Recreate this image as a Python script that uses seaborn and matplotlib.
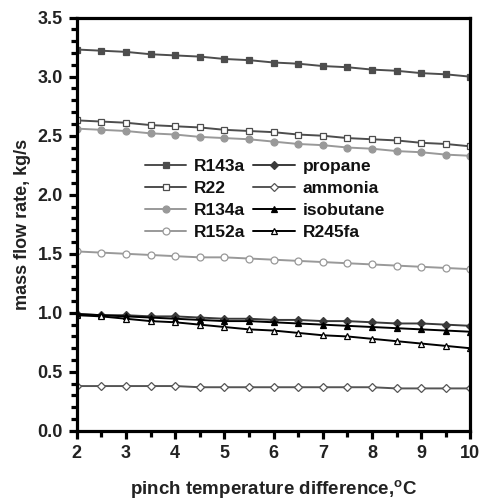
import numpy as np
import pandas as pd
import seaborn as sns
import matplotlib.pyplot as plt
from matplotlib.ticker import MultipleLocator

# pinch temperature difference (°C)
dt = [2.0, 2.5, 3.0, 3.5, 4.0, 4.5, 5.0, 5.5, 6.0, 6.5, 7.0, 7.5, 8.0, 8.5, 9.0, 9.5, 10.0]

# mass flow rate (kg/s)
r143a = [3.23, 3.22, 3.21, 3.19, 3.18, 3.17, 3.15, 3.14, 3.12, 3.11, 3.09, 3.08, 3.06, 3.05, 3.03, 3.02, 3.00]
r22 = [2.63, 2.62, 2.61, 2.59, 2.58, 2.57, 2.55, 2.54, 2.53, 2.51, 2.50, 2.48, 2.47, 2.46, 2.44, 2.43, 2.41]
r134a = [2.56, 2.55, 2.54, 2.52, 2.51, 2.49, 2.48, 2.47, 2.45, 2.43, 2.42, 2.40, 2.39, 2.37, 2.36, 2.34, 2.33]
r152a = [1.52, 1.51, 1.50, 1.49, 1.48, 1.47, 1.47, 1.46, 1.45, 1.44, 1.43, 1.42, 1.41, 1.40, 1.39, 1.38, 1.37]
propane = [0.99, 0.98, 0.98, 0.97, 0.97, 0.96, 0.95, 0.95, 0.94, 0.94, 0.93, 0.93, 0.92, 0.91, 0.91, 0.90, 0.89]
ammonia = [0.38, 0.38, 0.38, 0.38, 0.38, 0.37, 0.37, 0.37, 0.37, 0.37, 0.37, 0.37, 0.37, 0.36, 0.36, 0.36, 0.36]
isobutane = [0.99, 0.98, 0.97, 0.96, 0.95, 0.94, 0.93, 0.93, 0.92, 0.91, 0.90, 0.89, 0.88, 0.87, 0.86, 0.85, 0.84]
r245fa = [0.98, 0.97, 0.95, 0.93, 0.92, 0.90, 0.88, 0.86, 0.85, 0.83, 0.81, 0.80, 0.78, 0.76, 0.74, 0.72, 0.70]

names = ['R143a', 'R22', 'R134a', 'R152a', 'propane', 'ammonia', 'isobutane', 'R245fa']
series = [r143a, r22, r134a, r152a, propane, ammonia, isobutane, r245fa]

# estilo de cada curva: cor da linha, marcador, preenchimento
estilos = {
    'R143a': ('#4d4d4d', 's', '#4d4d4d'),
    'R22': ('#4d4d4d', 's', 'white'),
    'R134a': ('#999999', 'o', '#999999'),
    'R152a': ('#999999', 'o', 'white'),
    'propane': ('#3a3a3a', 'D', '#3a3a3a'),
    'ammonia': ('#555555', 'D', 'white'),
    'isobutane': ('#000000', '^', '#000000'),
    'R245fa': ('#000000', '^', 'white'),
}

sns.set_theme(style='ticks')
plt.rcParams['font.family'] = ['Liberation Sans', 'DejaVu Sans']
plt.rcParams['font.weight'] = 'bold'
plt.rcParams['mathtext.fontset'] = 'custom'
plt.rcParams['mathtext.rm'] = 'Liberation Sans:bold'
plt.rcParams['mathtext.bf'] = 'Liberation Sans:bold'

fig = plt.figure(figsize=(4.8, 5.04), dpi=100)
ax = fig.add_axes([0.16, 0.145, 0.82, 0.82])

for nome, valores in zip(names, series):
    cor, marcador, face = estilos[nome]
    df = pd.DataFrame({'dt': dt, 'm': valores})
    ms = 5 if marcador != 'D' else 4.5
    sns.lineplot(data=df, x='dt', y='m', ax=ax, color=cor, linewidth=1.4,
                 marker=marcador, markersize=ms, markerfacecolor=face,
                 markeredgecolor=cor, markeredgewidth=0.9, label=nome)

ax.set_xlim(2, 10)
ax.set_ylim(0, 3.5)
ax.xaxis.set_major_locator(MultipleLocator(1))
ax.xaxis.set_minor_locator(MultipleLocator(0.5))
ax.yaxis.set_major_locator(MultipleLocator(0.5))
ax.yaxis.set_minor_locator(MultipleLocator(0.1))
ax.yaxis.set_major_formatter(plt.FormatStrFormatter('%.1f'))

for lado in ['left', 'right', 'top', 'bottom']:
    ax.spines[lado].set_visible(True)
    ax.spines[lado].set_linewidth(2.3)
    ax.spines[lado].set_color('black')

ax.tick_params(which='major', direction='out', length=6, width=2.3, labelsize=13,
               colors='black', pad=4)
ax.tick_params(which='minor', direction='out', length=4, width=2.3, colors='black')
for lbl in ax.get_xticklabels() + ax.get_yticklabels():
    lbl.set_fontweight('bold')
    lbl.set_color('#222222')

ax.set_xlabel(r'pinch temperature difference,$^\mathrm{o}$C', fontsize=13.5,
              fontweight='bold', labelpad=12, color='#222222')
ax.set_ylabel('mass flow rate, kg/s', fontsize=13, fontweight='bold',
              labelpad=5, color='#222222')

# legenda em duas colunas (coluna 1: R..., coluna 2: outros)
handles, labels = ax.get_legend_handles_labels()
leg = ax.legend(handles, labels, ncol=2, loc='center left',
                bbox_to_anchor=(0.155, 0.56), frameon=False, fontsize=12.5,
                handlelength=2.4, handletextpad=0.45, columnspacing=0.45,
                labelspacing=0.4, borderaxespad=0)
for t in leg.get_texts():
    t.set_fontweight('bold')
    t.set_color('#111111')

fig.savefig('out.png', dpi=100)
